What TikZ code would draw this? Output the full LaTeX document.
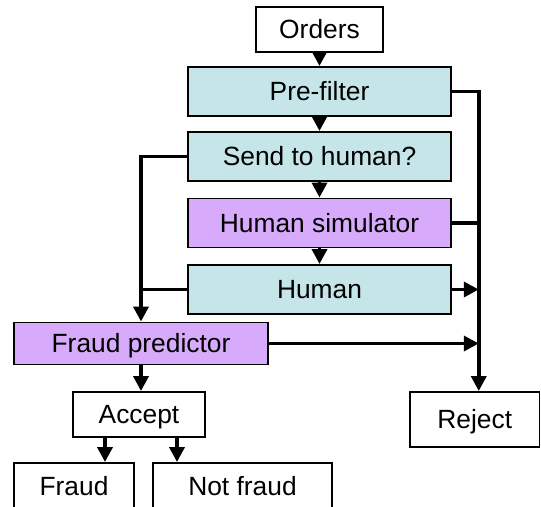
\documentclass[tikz,border=0pt]{standalone}
\usepackage{fontspec}
\setmainfont{Liberation Sans}
\usetikzlibrary{arrows.meta}
\definecolor{filterblue}{RGB}{197,229,232}
\definecolor{modelpurple}{RGB}{216,170,252}

\begin{document}
\begin{tikzpicture}[
    box/.style={draw,line width=1.1pt,inner sep=0pt,minimum height=0.9cm,
      font=\fontsize{15}{18}\selectfont,text height=10.7pt,text depth=0pt},
    link/.style={line width=2.1pt},
    arr/.style={link,-{Triangle[length=0.3cm,width=0.3cm]}}
  ]
    \useasboundingbox (0,0) rectangle (10.82,-10.14);
    \node[box,minimum width=2.54cm] (orders) at (6.39,-0.59) {Orders};
    \node[box,fill=filterblue,minimum width=5.26cm,minimum height=0.98cm] (prefilter) at (6.39,-1.83) {Pre-filter};
    \node[box,fill=filterblue,minimum width=5.26cm,minimum height=0.98cm] (send) at (6.39,-3.13) {Send to human?};
    \node[box,fill=modelpurple,minimum width=5.26cm,minimum height=0.98cm] (simulator) at (6.39,-4.46) {Human simulator};
    \node[box,fill=filterblue,minimum width=5.26cm,minimum height=0.98cm] (human) at (6.39,-5.79) {Human};
    \node[box,fill=modelpurple,minimum width=5.08cm,minimum height=0.84cm] (predictor) at (2.82,-6.87) {Fraud predictor};
    \node[box,minimum width=2.64cm] (accept) at (2.78,-8.29) {Accept};
    \node[box,minimum width=2.59cm,minimum height=1.1cm] (reject) at (9.495,-8.39) {Reject};
    \node[box,minimum width=2.4cm,minimum height=0.94cm] (fraud) at (1.48,-9.73) {Fraud};
    \node[box,minimum width=3.58cm,minimum height=0.94cm] (notfraud) at (4.85,-9.73) {Not fraud};

    \coordinate (bus) at ([xshift=0.08cm]reject.north);
    \coordinate (tofraud) at ([xshift=-0.68cm]accept.south);
    \coordinate (tonotfraud) at ([xshift=0.76cm]accept.south);

    \draw[arr] (orders) -- (prefilter);
    \draw[arr] (prefilter) -- (send);
    \draw[arr] (send) -- (simulator);
    \draw[arr] (simulator) -- (human);
    \draw[arr] (prefilter.east) -| (bus);
    \draw[link] (simulator.east) -- (simulator.east -| bus);
    \draw[arr] (human.east) -- (human.east -| bus);
    \draw[arr] (predictor.east) -- (predictor.east -| bus);
    \draw[arr] (send.west) -| (predictor.north);
    \draw[link] (human.west) -- (human.west -| predictor.north);
    \draw[arr] (predictor.south) -- (predictor.south |- accept.north);
    \draw[arr] (tofraud) -- (tofraud |- fraud.north);
    \draw[arr] (tonotfraud) -- (tonotfraud |- notfraud.north);
  \end{tikzpicture}
\end{document}
